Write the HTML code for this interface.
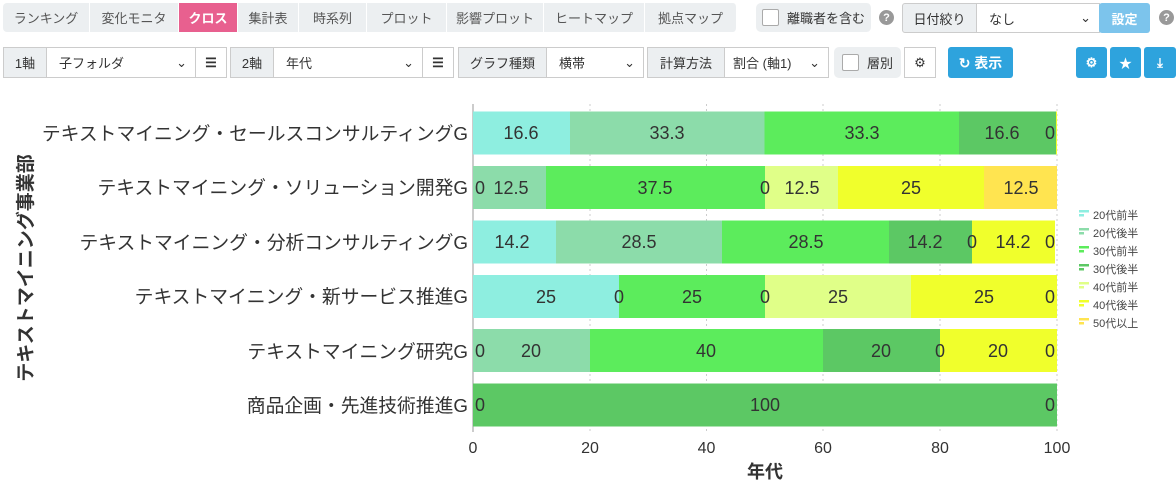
<!DOCTYPE html><html><head><meta charset="utf-8"><style>
body{margin:0;width:1176px;height:486px;background:#fff;font-family:"Liberation Sans","Noto Sans CJK JP",sans-serif;position:relative;overflow:hidden;color:#333}
.a{position:absolute;box-sizing:border-box;font-size:13px;display:flex;align-items:center;justify-content:center}
.t{background:#eceff1;color:#555;top:3px;height:29px;border-right:1px solid #fff}
.g{background:#eceff1;color:#333;border:1px solid #ccc;top:47px;height:31px}
.s{background:#fff;border:1px solid #ccc;top:47px;height:31px;justify-content:space-between;padding:0 8px 0 12px}
.b{background:#2ea3dd;color:#fff;font-weight:bold;top:47px;height:31px;border-radius:3px}
.q{width:15px;height:15px;border-radius:50%;background:#999;color:#fff;font-size:11px;font-weight:bold}
.cb{width:15px;height:15px;border:1px solid #aaa;background:#fff;border-radius:2px;margin-right:8px}
</style></head><body>
<div class="a t" style="left:3px;width:87px;border-radius:4px 0 0 4px">ランキング</div>
<div class="a t" style="left:90px;width:89px">変化モニタ</div>
<div class="a t" style="left:179px;width:59px;background:#e8608f;color:#fff;font-weight:bold">クロス</div>
<div class="a t" style="left:238px;width:61px">集計表</div>
<div class="a t" style="left:299px;width:68px">時系列</div>
<div class="a t" style="left:367px;width:80px">プロット</div>
<div class="a t" style="left:447px;width:97px">影響プロット</div>
<div class="a t" style="left:544px;width:101px">ヒートマップ</div>
<div class="a t" style="left:645px;width:92px;border-radius:0 4px 4px 0">拠点マップ</div>
<div class="a t" style="left:756px;width:116px;border-radius:5px;color:#333"><span class="cb"></span>離職者を含む</div>
<div class="a q" style="left:879px;top:10px">?</div>
<div class="a g" style="left:902px;top:3px;width:75px;height:30px;border-radius:3px 0 0 3px">日付絞り</div>
<div class="a s" style="left:976px;top:3px;width:124px;height:30px"><span>なし</span><span>⌄</span></div>
<div class="a b" style="left:1099px;top:3px;width:51px;height:30px;background:#7cc4ec">設定</div>
<div class="a q" style="left:1159px;top:10px">?</div>

<div class="a g" style="left:3px;width:44px">1軸</div>
<div class="a s" style="left:46px;width:150px"><span>子フォルダ</span><span>⌄</span></div>
<div class="a s" style="left:195px;width:32px;padding:0;justify-content:center;font-weight:bold">☰</div>
<div class="a g" style="left:230px;width:44px">2軸</div>
<div class="a s" style="left:273px;width:150px"><span>年代</span><span>⌄</span></div>
<div class="a s" style="left:422px;width:32px;padding:0;justify-content:center;font-weight:bold">☰</div>
<div class="a g" style="left:458px;width:89px">グラフ種類</div>
<div class="a s" style="left:546px;width:98px"><span>横帯</span><span>⌄</span></div>
<div class="a g" style="left:647px;width:78px">計算方法</div>
<div class="a s" style="left:724px;width:105px;padding-left:8px"><span>割合 (軸1)</span><span>⌄</span></div>
<div class="a g" style="left:834px;width:67px;border:none;border-radius:5px"><span class="cb"></span>層別</div>
<div class="a s" style="left:904px;width:32px;padding:0;justify-content:center">⚙</div>
<div class="a b" style="left:948px;width:65px;font-size:14px">↻ 表示</div>
<div class="a b" style="left:1076px;width:31px">⚙</div>
<div class="a b" style="left:1110px;width:31px">★</div>
<div class="a b" style="left:1144px;width:32px">⤓</div>

<svg style="position:absolute;left:0;top:0" width="1176" height="486" font-family="Liberation Sans, Noto Sans CJK JP, sans-serif">
<g stroke="#ccc" stroke-dasharray="2,3"><line x1="590" y1="104" x2="590" y2="432"/><line x1="706.5" y1="104" x2="706.5" y2="432"/><line x1="823" y1="104" x2="823" y2="432"/><line x1="940" y1="104" x2="940" y2="432"/><line x1="1057" y1="104" x2="1057" y2="432"/></g>
<line x1="473" y1="104" x2="473" y2="432" stroke="#bbb" stroke-width="1.5"/>
<g>
<rect x="473" y="111.5" width="97" height="43" fill="#8eeee0"/><rect x="570" y="111.5" width="194.5" height="43" fill="#8cdcaa"/><rect x="764.5" y="111.5" width="194.5" height="43" fill="#5cec5c"/><rect x="959" y="111.5" width="97" height="43" fill="#5cc864"/><rect x="1056" y="111.5" width="1" height="43" fill="#f0ff2c"/>
<rect x="473" y="166" width="73" height="43" fill="#8cdcaa"/><rect x="546" y="166" width="219" height="43" fill="#5cec5c"/><rect x="765" y="166" width="73" height="43" fill="#e0ff88"/><rect x="838" y="166" width="146" height="43" fill="#f0ff2c"/><rect x="984" y="166" width="73" height="43" fill="#ffe450"/>
<rect x="473" y="220.5" width="83" height="43" fill="#8eeee0"/><rect x="556" y="220.5" width="166" height="43" fill="#8cdcaa"/><rect x="722" y="220.5" width="167" height="43" fill="#5cec5c"/><rect x="889" y="220.5" width="83" height="43" fill="#5cc864"/><rect x="972" y="220.5" width="83" height="43" fill="#f0ff2c"/>
<rect x="473" y="275" width="146" height="43" fill="#8eeee0"/><rect x="619" y="275" width="146" height="43" fill="#5cec5c"/><rect x="765" y="275" width="146" height="43" fill="#e0ff88"/><rect x="911" y="275" width="146" height="43" fill="#f0ff2c"/>
<rect x="473" y="329" width="117" height="43" fill="#8cdcaa"/><rect x="590" y="329" width="233" height="43" fill="#5cec5c"/><rect x="823" y="329" width="117" height="43" fill="#5cc864"/><rect x="940" y="329" width="117" height="43" fill="#f0ff2c"/>
<rect x="473" y="383.5" width="584" height="43" fill="#5cc864"/>
</g>
<g font-size="18" fill="#333" text-anchor="middle">
<text x="521" y="139">16.6</text><text x="667" y="139">33.3</text><text x="862" y="139">33.3</text><text x="1002" y="139">16.6</text><text x="1050" y="139">0</text>
<text x="480" y="194">0</text><text x="511" y="194">12.5</text><text x="655" y="194">37.5</text><text x="765" y="194">0</text><text x="802" y="194">12.5</text><text x="911" y="194">25</text><text x="1021" y="194">12.5</text>
<text x="512" y="248">14.2</text><text x="639" y="248">28.5</text><text x="806" y="248">28.5</text><text x="925" y="248">14.2</text><text x="972" y="248">0</text><text x="1013" y="248">14.2</text><text x="1050" y="248">0</text>
<text x="546" y="303">25</text><text x="619" y="303">0</text><text x="692" y="303">25</text><text x="765" y="303">0</text><text x="838" y="303">25</text><text x="984" y="303">25</text><text x="1050" y="303">0</text>
<text x="480" y="357">0</text><text x="531" y="357">20</text><text x="706" y="357">40</text><text x="881" y="357">20</text><text x="940" y="357">0</text><text x="998" y="357">20</text><text x="1050" y="357">0</text>
<text x="480" y="411">0</text><text x="765" y="411">100</text><text x="1050" y="411">0</text>
</g>
<g font-size="18.8" fill="#333" text-anchor="end">
<text x="468" y="140">テキストマイニング・セールスコンサルティングG</text>
<text x="468" y="194">テキストマイニング・ソリューション開発G</text>
<text x="468" y="249">テキストマイニング・分析コンサルティングG</text>
<text x="468" y="303">テキストマイニング・新サービス推進G</text>
<text x="468" y="358">テキストマイニング研究G</text>
<text x="468" y="412">商品企画・先進技術推進G</text>
</g>
<g font-size="16" fill="#333" text-anchor="middle">
<text x="473" y="453">0</text><text x="590" y="453">20</text><text x="706.5" y="453">40</text><text x="823" y="453">60</text><text x="940" y="453">80</text><text x="1057" y="453">100</text>
</g>
<text x="765" y="478" font-size="18" font-weight="bold" text-anchor="middle" fill="#333">年代</text>
<text transform="translate(32,268) rotate(-90)" font-size="19" font-weight="bold" text-anchor="middle" fill="#333">テキストマイニング事業部</text>
<g font-size="11" fill="#444">
<g transform="translate(1079,210)"><rect width="10" height="2.5" fill="#8eeee0"/><rect y="4" width="5" height="2.5" fill="#8eeee0"/><text x="14" y="9">20代前半</text></g>
<g transform="translate(1079,228)"><rect width="10" height="2.5" fill="#8cdcaa"/><rect y="4" width="5" height="2.5" fill="#8cdcaa"/><text x="14" y="9">20代後半</text></g>
<g transform="translate(1079,246)"><rect width="10" height="2.5" fill="#5cec5c"/><rect y="4" width="5" height="2.5" fill="#5cec5c"/><text x="14" y="9">30代前半</text></g>
<g transform="translate(1079,264)"><rect width="10" height="2.5" fill="#5cc864"/><rect y="4" width="5" height="2.5" fill="#5cc864"/><text x="14" y="9">30代後半</text></g>
<g transform="translate(1079,282)"><rect width="10" height="2.5" fill="#e0ff88"/><rect y="4" width="5" height="2.5" fill="#e0ff88"/><text x="14" y="9">40代前半</text></g>
<g transform="translate(1079,300)"><rect width="10" height="2.5" fill="#f0ff2c"/><rect y="4" width="5" height="2.5" fill="#f0ff2c"/><text x="14" y="9">40代後半</text></g>
<g transform="translate(1079,318)"><rect width="10" height="2.5" fill="#ffe450"/><rect y="4" width="5" height="2.5" fill="#ffe450"/><text x="14" y="9">50代以上</text></g>
</g>
</svg>
</body></html>
